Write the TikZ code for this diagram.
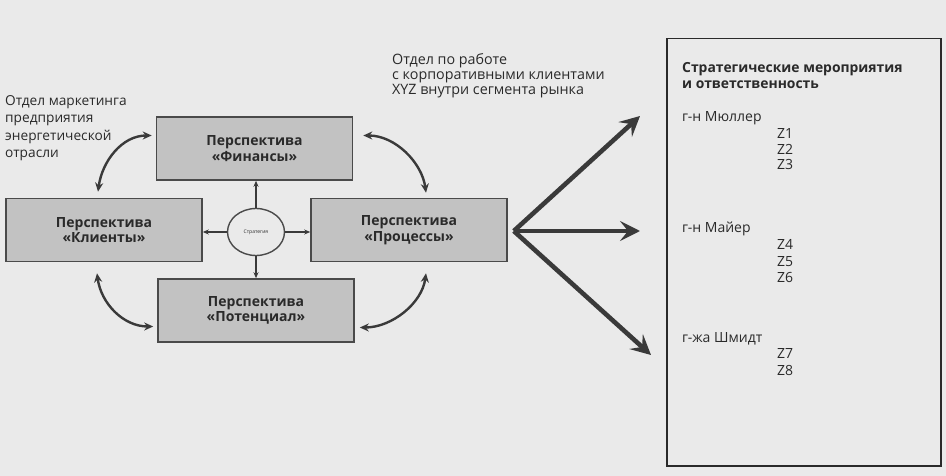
\documentclass[tikz,border=0pt]{standalone}
\usepackage{fontspec}
\setmainfont{Open Sans}
\usetikzlibrary{arrows.meta,shapes.geometric,calc}
\definecolor{bg}{HTML}{EAEAEA}
\definecolor{boxfill}{HTML}{C2C2C2}
\definecolor{boxline}{HTML}{4A4A4A}
\definecolor{txt}{HTML}{2A2A2A}
\definecolor{arr}{HTML}{3A3A3A}
\tikzset{
  persp/.style={draw=boxline, fill=boxfill, line width=1.6pt, minimum width=196pt,
    minimum height=63pt, inner sep=0pt, align=center, text=txt,
    font=\bfseries\fontsize{14}{15.5}\selectfont},
  lbl/.style={anchor=north west, align=left, inner sep=0pt, text=txt},
  thinarr/.style={draw=arr, line width=1.2pt, -{Stealth[length=6pt,width=5pt]}},
  curvarr/.style={draw=arr, line width=2.4pt, {Stealth[length=9pt,width=8pt,inset=3pt]}-{Stealth[length=9pt,width=8pt,inset=3pt]}},
  bigarr/.style={draw=arr, line width=4.6pt, -{Stealth[length=20pt,width=20pt,inset=8pt]}},
  rtext/.style={anchor=base west, inner sep=0pt, text=txt, font=\fontsize{14}{15}\selectfont}
}
\begin{document}
\begin{tikzpicture}[x=1pt,y=-1pt]
\fill[bg] (0,0) rectangle (946,476);
\useasboundingbox (0,0) rectangle (946,476);

% four perspectives
\node[persp] (fin) at (254.5,148.5) {Перспектива\\«Финансы»};
\node[persp] (cli) at (104,230) {Перспектива\\«Клиенты»};
\node[persp] (pro) at (409,230) {Перспектива\\«Процессы»};
\node[persp] (pot) at (256,310.5) {Перспектива\\«Потенциал»};

% strategy ellipse
\node[ellipse, draw=boxline, fill=bg, line width=1.4pt, minimum width=57pt, minimum height=47pt,
      inner sep=0pt, font=\fontsize{5}{6}\selectfont, text=txt] (str) at (256,232) {Стратегия};

\draw[thinarr] (str.north) -- (str.north |- fin.south);
\draw[thinarr] (str.south) -- (str.south |- pot.north);
\draw[thinarr] (str.west) -- (cli.east |- str.west);
\draw[thinarr] (str.east) -- (pro.west |- str.east);

% curved double arrows
\coordinate (tl1) at ($(cli.north)+(-6,-6)$);
\coordinate (tl2) at ($(fin.west)+(-4,-13)$);
\draw[curvarr] (tl1) .. controls ($(tl1)+(4,-30)$) and ($(tl2)+(-30,0)$) .. (tl2);
\coordinate (tr1) at ($(fin.east)+(10,-13)$);
\coordinate (tr2) at ($(pro.north)+(17,-5)$);
\draw[curvarr] (tr1) .. controls ($(tr1)+(32,0)$) and ($(tr2)+(-4,-30)$) .. (tr2);
\coordinate (bl1) at ($(cli.south)+(-7,11)$);
\coordinate (bl2) at ($(pot.west)+(-4,16)$);
\draw[curvarr] (bl1) .. controls ($(bl1)+(4,30)$) and ($(bl2)+(-30,0)$) .. (bl2);
\coordinate (br1) at ($(pot.east)+(5,17)$);
\coordinate (br2) at ($(pro.south)+(17,11)$);
\draw[curvarr] (br1) .. controls ($(br1)+(32,0)$) and ($(br2)+(-4,30)$) .. (br2);

% labels
\node[lbl, font=\fontsize{13.7}{17.5}\selectfont] (mk) at (5,95)
  {Отдел маркетинга\\предприятия\\энергетической\\отрасли};
\node[lbl, font=\fontsize{14.3}{15}\selectfont] (corp) at (392,53)
  {Отдел по работе\\с корпоративными клиентами\\XYZ внутри сегмента рынка};

% right box
\node[draw=txt, line width=1.5pt, minimum width=274pt, minimum height=427pt, inner sep=0pt,
      anchor=north west] (rb) at (666,38) {};
\node[rtext, font=\bfseries\fontsize{13.9}{16}\selectfont, align=left, anchor=north west]
  (title) at (682,62) {Стратегические мероприятия\\и ответственность};
\node[rtext] (m1) at (682,122) {г-н Мюллер};
\node[rtext] (z1) at (777,139) {Z1};
\node[rtext] (z2) at (777,155) {Z2};
\node[rtext] (z3) at (777,170) {Z3};
\node[rtext] (m2) at (682,233) {г-н Майер};
\node[rtext] (z4) at (777,250) {Z4};
\node[rtext] (z5) at (777,266) {Z5};
\node[rtext] (z6) at (777,282) {Z6};
\node[rtext] (m3) at (682,342) {г-жа Шмидт};
\node[rtext] (z7) at (777,358) {Z7};
\node[rtext] (z8) at (777,375) {Z8};

% big arrows
\coordinate (src) at ($(pro.east)+(6,1)$);
\coordinate (t1) at (640,116);
\coordinate (t2) at (640,231);
\coordinate (t3) at (651,355);
\draw[bigarr] (src) -- (t1);
\draw[bigarr] (src) -- (t2);
\draw[bigarr] (src) -- (t3);
\end{tikzpicture}
\end{document}
